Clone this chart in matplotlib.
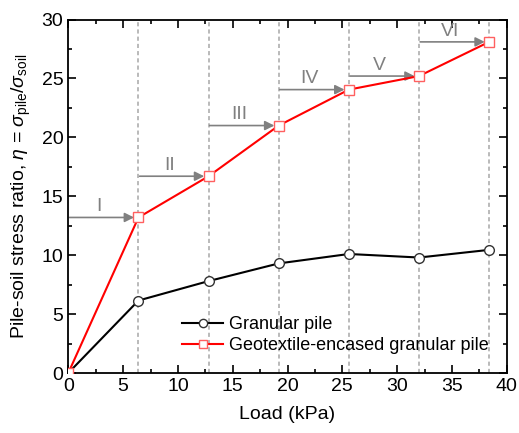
import matplotlib
matplotlib.use("Agg")
import matplotlib.pyplot as plt
from matplotlib.ticker import MultipleLocator

plt.rcParams['font.family'] = ['Liberation Sans', 'DejaVu Sans']
plt.rcParams['mathtext.fontset'] = 'custom'
plt.rcParams['mathtext.rm'] = 'Liberation Sans'
plt.rcParams['mathtext.it'] = 'Liberation Sans:italic'

load = [0, 6.4, 12.8, 19.2, 25.6, 32.0, 38.4]
granular = [0, 6.15, 7.8, 9.3, 10.1, 9.8, 10.45]
encased = [0, 13.2, 16.7, 21.0, 24.05, 25.2, 28.1]
stages = ['I', 'II', 'III', 'IV', 'V', 'VI']

fig = plt.figure(figsize=(5.19, 4.33), dpi=100)
ax = fig.add_axes([68.3/519, 1-373/433, 438.4/519, 353.5/433])

for x in load[1:]:
    ax.axvline(x, color='#b4b4b4', ls=(0, (2.3, 1.7)), lw=1.3, zorder=1)

for i, s in enumerate(stages):
    x0 = load[i]
    x1 = load[i+1]
    y = encased[i+1]
    ax.annotate('', xy=(x1 - 0.4, y), xytext=(x0 + 0.1, y),
                arrowprops=dict(arrowstyle='-|>', color='#808080', lw=1.2,
                                mutation_scale=14, shrinkA=0, shrinkB=0),
                zorder=2)
    ax.text((x0 + x1) / 2 - 0.4, y + 0.2, s, color='#808080', fontsize=14,
            ha='center', va='bottom', zorder=2)

ax.plot(load, granular, color='black', lw=1.5, marker='o', ms=7,
        mfc='white', mec='#333333', mew=1.0, label='Granular pile', zorder=3)
ax.plot(load, encased, color='#ff0000', lw=1.5, marker='s', ms=6.5,
        mfc='white', mec='#ff6060', mew=1.0,
        label='Geotextile-encased granular pile', zorder=3)

ax.set_xlim(0, 40)
ax.set_ylim(0, 30)
ax.xaxis.set_major_locator(MultipleLocator(5))
ax.xaxis.set_minor_locator(MultipleLocator(2.5))
ax.yaxis.set_major_locator(MultipleLocator(5))
ax.yaxis.set_minor_locator(MultipleLocator(2.5))
ax.tick_params(which='both', direction='in', top=True, right=True, labelsize=14)
ax.tick_params(which='major', length=5.5, width=1.2)
ax.tick_params(which='minor', length=3, width=1.2)
for sp in ax.spines.values():
    sp.set_linewidth(1.3)

ax.set_xlabel('Load (kPa)', fontsize=14, labelpad=8)
ax.set_ylabel(r'Pile-soil stress ratio, $\eta$ = $\sigma_{\rm pile}/\sigma_{\rm soil}$',
              fontsize=14, labelpad=6)

ax.legend(loc='upper left', bbox_to_anchor=(0.259, 0.16), frameon=False,
          fontsize=13, handlelength=2.3, handletextpad=0.33, labelspacing=0.22,
          borderpad=0, borderaxespad=0, markerscale=0.85)

fig.savefig('out.png', dpi=100)
